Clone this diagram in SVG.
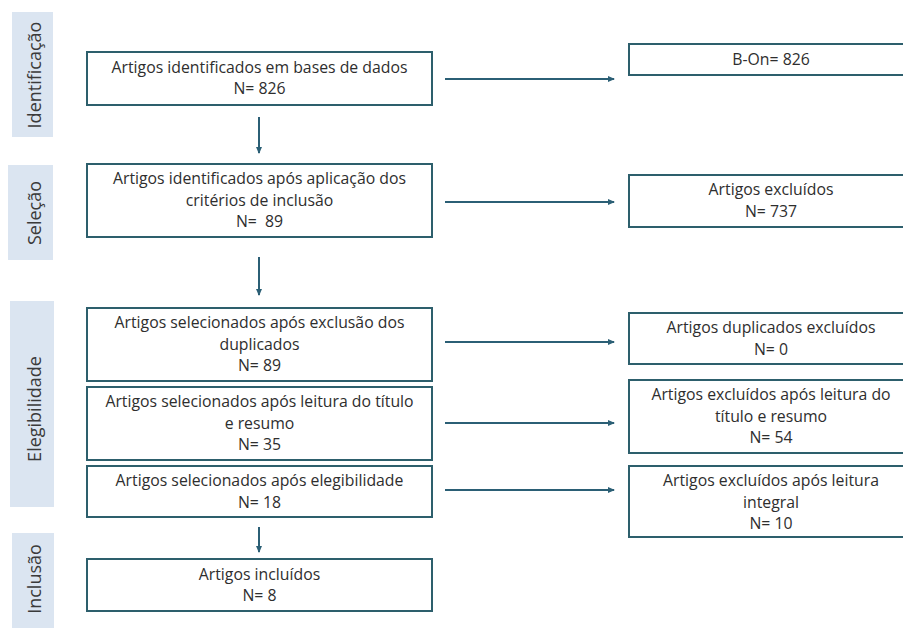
<svg xmlns="http://www.w3.org/2000/svg" width="903" height="628" viewBox="0 0 903 628">
<defs>
<style>
.box{fill:#ffffff;stroke:#2d5f6c;stroke-width:2}
.side{fill:#dbe5f1}
.t{font-family:"Open Sans","Noto Sans",sans-serif;font-size:15.8px;fill:#2e2e2e;text-anchor:middle}
.s{font-family:"Open Sans","Noto Sans",sans-serif;font-size:18px;fill:#3a3a3a;text-anchor:middle}
.c{stroke:#2b5f75;stroke-width:2;fill:none;marker-end:url(#ah)}
</style>
<marker id="ah" markerWidth="8" markerHeight="8" refX="6" refY="4" orient="auto" markerUnits="userSpaceOnUse">
<path d="M0,1 L7,4 L0,7 Z" fill="#2b5f75"/>
</marker>
</defs>
<rect width="903" height="628" fill="#ffffff"/>
<g id="phase-identificacao">
<rect class="side" x="12" y="12" width="41" height="125"/>
<text class="s" transform="translate(41,75) rotate(-90)">Identificação</text>
</g>
<g id="phase-selecao">
<rect class="side" x="8" y="165" width="45" height="95"/>
<text class="s" transform="translate(41,213) rotate(-90)">Seleção</text>
</g>
<g id="phase-elegibilidade">
<rect class="side" x="10" y="301" width="44" height="206"/>
<text class="s" transform="translate(41,409) rotate(-90)">Elegibilidade</text>
</g>
<g id="phase-inclusao">
<rect class="side" x="12" y="533" width="42" height="100"/>
<text class="s" transform="translate(41,579) rotate(-90)">Inclusão</text>
</g>
<g id="n1">
<rect class="box" x="87" y="52" width="345" height="53"/>
<text class="t" x="259.5" y="73">Artigos identificados em bases de dados</text>
<text class="t" x="259.5" y="94">N= 826</text>
</g>
<g id="n2">
<rect class="box" x="87" y="164" width="345" height="73"/>
<text class="t" x="259.5" y="184">Artigos identificados após aplicação dos</text>
<text class="t" x="259.5" y="206">critérios de inclusão</text>
<text class="t" x="259.5" y="227">N=&#160; 89</text>
</g>
<g id="n3">
<rect class="box" x="87" y="308" width="345" height="73"/>
<text class="t" x="259.5" y="328">Artigos selecionados após exclusão dos</text>
<text class="t" x="259.5" y="350">duplicados</text>
<text class="t" x="259.5" y="371">N= 89</text>
</g>
<g id="n4">
<rect class="box" x="87" y="387" width="345" height="73"/>
<text class="t" x="259.5" y="407">Artigos selecionados após leitura do título</text>
<text class="t" x="259.5" y="429">e resumo</text>
<text class="t" x="259.5" y="450">N= 35</text>
</g>
<g id="n5">
<rect class="box" x="87" y="466" width="345" height="51"/>
<text class="t" x="259.5" y="486">Artigos selecionados após elegibilidade</text>
<text class="t" x="259.5" y="508">N= 18</text>
</g>
<g id="n6">
<rect class="box" x="87" y="559" width="345" height="52"/>
<text class="t" x="259.5" y="580">Artigos incluídos</text>
<text class="t" x="259.5" y="601">N= 8</text>
</g>
<g id="r1">
<rect class="box" x="629" y="44" width="280" height="31"/>
<text class="t" x="771" y="65">B-On= 826</text>
</g>
<g id="r2">
<rect class="box" x="629" y="175" width="280" height="52"/>
<text class="t" x="771" y="195">Artigos excluídos</text>
<text class="t" x="771" y="217">N= 737</text>
</g>
<g id="r3">
<rect class="box" x="629" y="313" width="280" height="51"/>
<text class="t" x="771" y="333">Artigos duplicados excluídos</text>
<text class="t" x="771" y="355">N= 0</text>
</g>
<g id="r4">
<rect class="box" x="629" y="380" width="280" height="73"/>
<text class="t" x="771" y="400">Artigos excluídos após leitura do</text>
<text class="t" x="771" y="422">título e resumo</text>
<text class="t" x="771" y="443">N= 54</text>
</g>
<g id="r5">
<rect class="box" x="629" y="466" width="280" height="71"/>
<text class="t" x="771" y="486">Artigos excluídos após leitura</text>
<text class="t" x="771" y="508">integral</text>
<text class="t" x="771" y="529">N= 10</text>
</g>
<g id="connectors">
<path class="c" d="M259,117 V153"/>
<path class="c" d="M259,257 V295"/>
<path class="c" d="M259,527 V552"/>
<path class="c" d="M445,79 H614"/>
<path class="c" d="M445,202 H614"/>
<path class="c" d="M445,342 H614"/>
<path class="c" d="M445,423 H614"/>
<path class="c" d="M445,490 H614"/>
</g>
</svg>
